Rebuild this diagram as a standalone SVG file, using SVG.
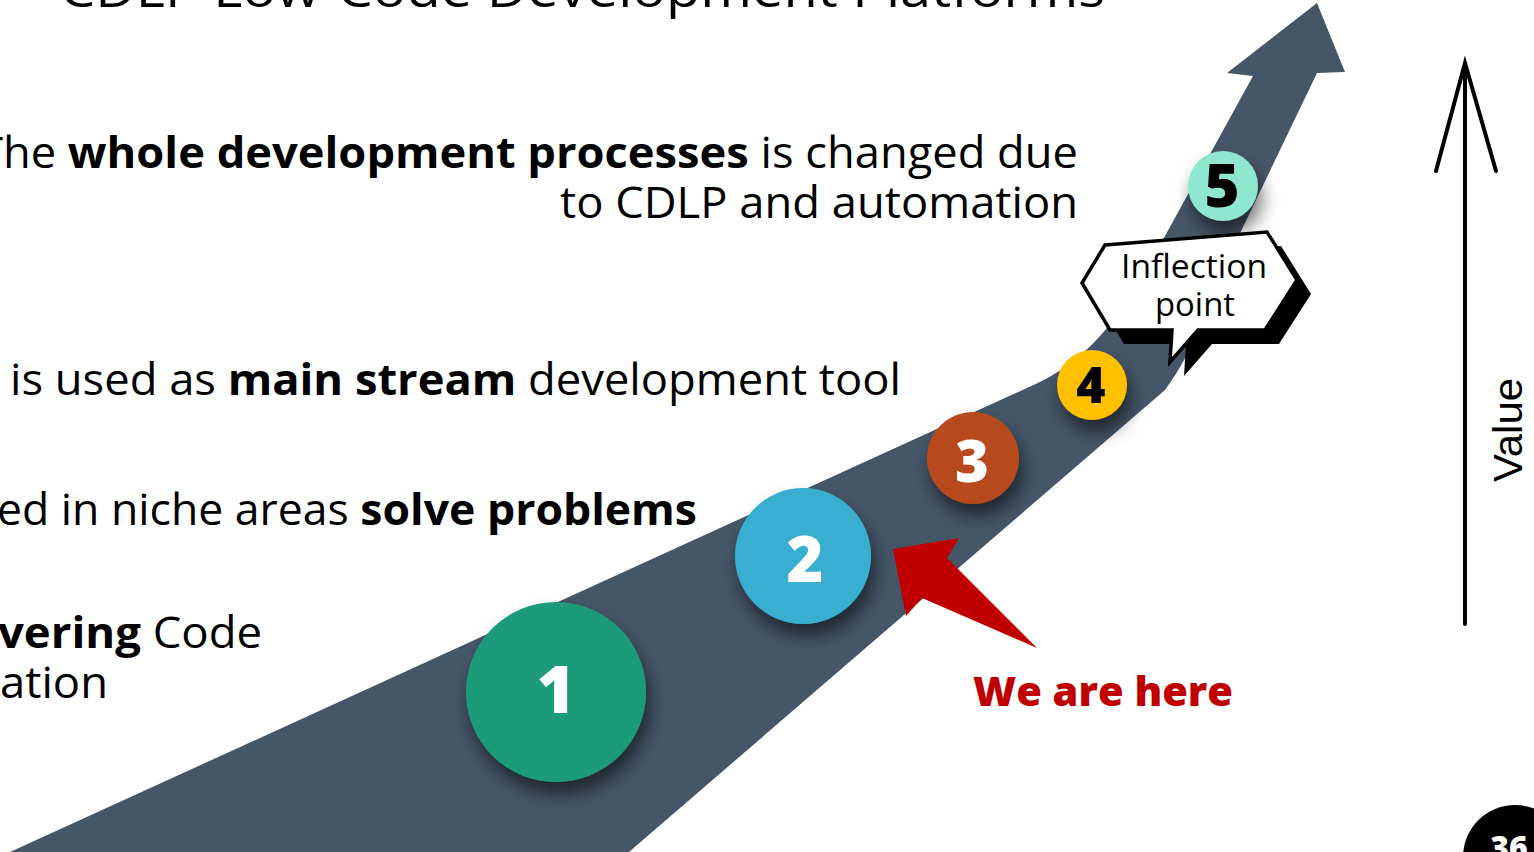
<svg xmlns="http://www.w3.org/2000/svg" width="1534" height="852" viewBox="0 0 1534 852">
<defs>
<style>
.t{font-family:"Open Sans","Liberation Sans",sans-serif;fill:#000;}
.b{font-weight:700;}
.num{font-family:"Open Sans","Liberation Sans",sans-serif;font-weight:800;text-anchor:middle;}
</style>
<filter id="sh" x="-40%" y="-40%" width="180%" height="180%">
<feDropShadow dx="4" dy="12" stdDeviation="9" flood-color="#000" flood-opacity="0.55"/>
</filter>
</defs>
<rect width="1534" height="852" fill="#fff"/>
<text class="t" x="60" y="7" font-size="50" textLength="1045" lengthAdjust="spacingAndGlyphs">CDLP Low-Code Development Platforms</text>

<g id="road">
<path d="M10 852 L1040 382 C1100 352 1130 300 1160 245 L1253 76 L1227 73 L1317 3 L1345 72 L1317 73 L1232 250 C1210 300 1195 350 1165 390 L629 852 Z" fill="#465669"/>
</g>

<g id="texts">
<text class="t" x="-22" y="168" font-size="43" textLength="1100" lengthAdjust="spacingAndGlyphs">The <tspan class="b">whole development processes</tspan> is changed due</text>
<text class="t" x="560" y="218" font-size="43" textLength="518" lengthAdjust="spacingAndGlyphs">to CDLP and automation</text>
<text class="t" x="10" y="395" font-size="43" textLength="891" lengthAdjust="spacingAndGlyphs">is used as <tspan class="b">main stream</tspan> development tool</text>
<text class="t" x="-3" y="525" font-size="43" textLength="700" lengthAdjust="spacingAndGlyphs">ed in niche areas <tspan class="b">solve problems</tspan></text>
<text class="t" x="-2" y="648" font-size="43" textLength="264" lengthAdjust="spacingAndGlyphs"><tspan class="b">vering</tspan> Code</text>
<text class="t" x="0" y="698" font-size="43" textLength="108" lengthAdjust="spacingAndGlyphs">ation</text>
</g>

<g id="step1">
<circle cx="556" cy="692" r="90" fill="#1E9B7A" filter="url(#sh)"/>
<text class="num" x="556" y="713" font-size="66" fill="#fff">1</text>
</g>
<g id="step2">
<circle cx="803" cy="556" r="68" fill="#37AFD0" filter="url(#sh)"/>
<text class="num" x="805" y="582" font-size="63" fill="#fff">2</text>
</g>
<g id="step3">
<circle cx="973" cy="458" r="46" fill="#B84A1A" filter="url(#sh)"/>
<text class="num" x="972" y="482" font-size="58" fill="#fff">3</text>
</g>
<g id="step4">
<circle cx="1092" cy="385" r="35" fill="#FFC000" filter="url(#sh)"/>
<text class="num" x="1091" y="403" font-size="50" fill="#000">4</text>
</g>
<g id="step5">
<circle cx="1223" cy="186" r="35" fill="#8EE8D0" filter="url(#sh)"/>
<text class="num" x="1222" y="207" font-size="60" fill="#000">5</text>
</g>

<g id="callout">
<polygon points="1119,259 1281,246 1311,294 1279,344 1212,344 1184,376 1186,344 1124,344 1096,297" fill="#000"/>
<polygon points="1105,245 1267,232 1297,280 1265,330 1198,330 1170,362 1172,330 1110,330 1082,283" fill="#fff" stroke="#000" stroke-width="3.5" stroke-linejoin="miter"/>
<text class="t" x="1121" y="278" font-size="32" textLength="146" lengthAdjust="spacingAndGlyphs">Inflection</text>
<text class="t" x="1155" y="316" font-size="32" textLength="80" lengthAdjust="spacingAndGlyphs">point</text>
</g>

<g id="pointer">
<polygon points="893,549 959,538 947,558 1037,648 922,598 906,616" fill="#C00000"/>
<text x="973" y="706" font-family="Open Sans,Liberation Sans,sans-serif" font-weight="800" font-size="40" fill="#C00000" textLength="260" lengthAdjust="spacingAndGlyphs">We are here</text>
</g>

<g id="axis" stroke="#000" stroke-width="4" stroke-linecap="round" fill="none">
<line x1="1465" y1="64" x2="1465" y2="624"/>
<polyline points="1436,171 1465,63 1496,171"/>
</g>
<text transform="translate(1522,430) rotate(-90)" font-size="40" text-anchor="middle" style="font-family:'Liberation Sans',sans-serif" textLength="104" lengthAdjust="spacingAndGlyphs">Value</text>

<g id="page">
<circle cx="1515" cy="857" r="52" fill="#000"/>
<text x="1509" y="859" font-family="Open Sans,Liberation Sans,sans-serif" font-weight="800" font-size="32" fill="#fff" text-anchor="middle">36</text>
</g>
</svg>
